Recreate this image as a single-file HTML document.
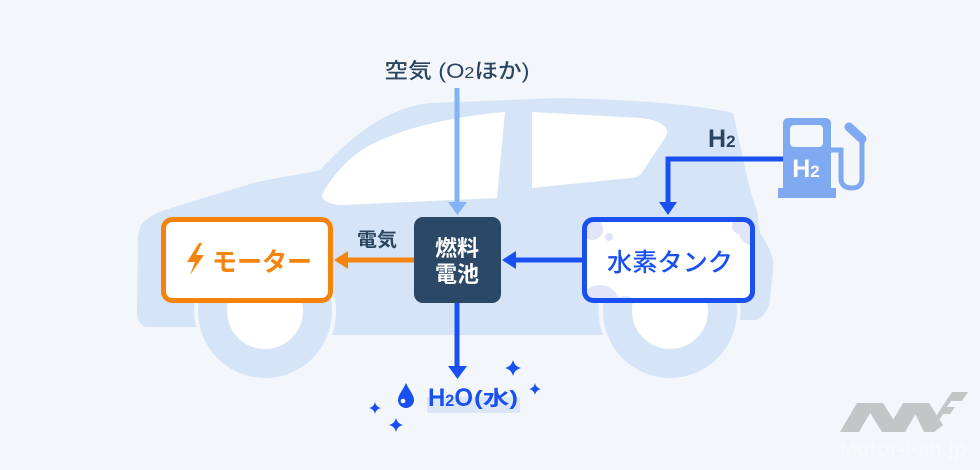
<!DOCTYPE html>
<html><head><meta charset="utf-8">
<style>
html,body{margin:0;padding:0;background:#f3f6fa;}
svg{display:block;}
text{font-family:"Liberation Sans","Noto Sans CJK JP",sans-serif;}
</style></head>
<body>
<svg width="980" height="470" viewBox="0 0 980 470" xmlns="http://www.w3.org/2000/svg">
<rect width="980" height="470" fill="#f3f6fa"/>
<!-- car body -->
<path fill="#d5e5f7" d="M140,228 C142,221 152,214 168,209 L253,183 C285,176 305,174 320,170 C350,138 385,108 430,103 L560,98 C640,100 700,105 733,113 C742,150 748,190 757,210 L760,233 C768,245 775,258 773,270 L770,300 C768,312 762,318 755,320 L740,320 A71,71 0 1 0 603,335 L332,335 A71,71 0 1 0 196,327 L146,327 C139,325 137,318 137,312 L138,240 C138,235 139,231 140,228 Z"/>
<!-- windows -->
<path fill="#ffffff" d="M323,193 C330,180 345,160 365,148 C400,128 450,117 505,112 L497,198 L343,205 C330,205 319,200 323,193 Z"/>
<path fill="#ffffff" d="M532,112 L640,118 C660,120 672,127 665,138 L641,174 C638,177 634,178 630,178 L532,188 Z"/>
<!-- wheels -->
<circle cx="265" cy="311" r="67" fill="#d5e5f7"/>
<circle cx="265" cy="311" r="38" fill="#ffffff"/>
<circle cx="670" cy="311" r="67" fill="#d5e5f7"/>
<circle cx="670" cy="311" r="38" fill="#ffffff"/>

<!-- air label and arrow -->
<text x="457" y="78" font-size="21" font-weight="500" fill="#2b4560" text-anchor="middle" textLength="145" lengthAdjust="spacingAndGlyphs">空気 (O<tspan font-size="16">2</tspan>ほか)</text>
<line x1="457" y1="88" x2="457" y2="204" stroke="#82b3f7" stroke-width="5"/>
<path d="M448,202 L467,202 L457.5,215 Z" fill="#82b3f7"/>

<!-- motor box -->
<rect x="163.5" y="219.5" width="167" height="81" rx="9" fill="#ffffff" stroke="#f5840f" stroke-width="5"/>
<path d="M199,243 L187,262 L195,262 L190,275 L204,255 L196,255 L202,243 Z" fill="#f5840f"/>
<text x="262" y="271" font-size="26" font-weight="700" fill="#f5840f" text-anchor="middle" textLength="100" lengthAdjust="spacingAndGlyphs">モーター</text>

<!-- electricity arrow -->
<line x1="414" y1="260" x2="346" y2="260" stroke="#f5840f" stroke-width="5"/>
<path d="M348,251 L348,269 L334,260 Z" fill="#f5840f"/>
<text x="377" y="246" font-size="19" font-weight="700" fill="#2b4560" text-anchor="middle" textLength="40" lengthAdjust="spacingAndGlyphs">電気</text>

<!-- fuel cell -->
<rect x="414" y="217" width="87" height="86" rx="9" fill="#2b4866"/>
<text x="457" y="256" font-size="22" font-weight="700" fill="#ffffff" text-anchor="middle">燃料</text>
<text x="457" y="282" font-size="22" font-weight="700" fill="#ffffff" text-anchor="middle">電池</text>

<!-- tank to fuel cell arrow -->
<line x1="582" y1="260" x2="514" y2="260" stroke="#1a50f0" stroke-width="5"/>
<path d="M516,251 L516,269 L502,260 Z" fill="#1a50f0"/>

<!-- tank box -->
<defs><clipPath id="tc"><rect x="587" y="222" width="163" height="76" rx="6"/></clipPath></defs>
<rect x="584.5" y="219.5" width="168" height="81" rx="9" fill="#ffffff"/>
<g clip-path="url(#tc)" fill="#e2e5f9">
<circle cx="592" cy="229" r="11"/>
<circle cx="609" cy="237" r="4"/>
<circle cx="752" cy="232" r="13"/>
<circle cx="740" cy="226" r="8"/>
<circle cx="600" cy="305" r="20"/>
<circle cx="625" cy="310" r="14"/>
</g>
<rect x="584.5" y="219.5" width="168" height="81" rx="9" fill="none" stroke="#1a50f0" stroke-width="5"/>
<text x="670" y="271" font-size="25" font-weight="500" fill="#1a4ff0" text-anchor="middle" textLength="126" lengthAdjust="spacingAndGlyphs">水素タンク</text>

<!-- H2 supply -->
<text x="708" y="147" font-size="25" font-weight="700" fill="#2b4560">H<tspan font-size="17">2</tspan></text>
<polyline points="783,159 668,159 668,204" fill="none" stroke="#1a50f0" stroke-width="5"/>
<path d="M659,202 L677,202 L668,215 Z" fill="#1a50f0"/>

<!-- pump -->
<path d="M783,193 L783,124 Q783,118 789,118 L825,118 Q831,118 831,124 L831,193 Z" fill="#7fa9f0"/>
<rect x="778" y="188" width="58" height="10" fill="#7fa9f0"/>
<rect x="790" y="125" width="33" height="22" rx="4" fill="#f3f6fa"/>
<text x="806" y="177" font-size="25" font-weight="700" fill="#ffffff" text-anchor="middle">H<tspan font-size="17">2</tspan></text>
<path d="M830,150 L841,150 L841,178 Q841,188 852,188 Q862,188 862,178 L862,140" fill="none" stroke="#7fa9f0" stroke-width="5"/>
<line x1="862" y1="139" x2="849" y2="127" stroke="#7fa9f0" stroke-width="9" stroke-linecap="round"/>

<!-- water output -->
<line x1="457" y1="303" x2="457" y2="367" stroke="#1a50f0" stroke-width="5"/>
<path d="M448,366 L467,366 L457.5,379 Z" fill="#1a50f0"/>
<rect x="427" y="397" width="93" height="16" fill="#dbe7f7"/>
<path d="M406,383 C403,390 398,395 398,400 A8,8 0 0 0 414,400 C414,395 409,390 406,383 Z" fill="#1a50f0"/>
<circle cx="403" cy="401" r="2.3" fill="#ffffff"/>
<text x="428" y="406" font-size="25" font-weight="700" fill="#1a4ff0" textLength="45" lengthAdjust="spacingAndGlyphs">H<tspan font-size="17">2</tspan>O</text>
<text x="474" y="405" font-size="20" font-weight="700" fill="#1a4ff0" textLength="44" lengthAdjust="spacingAndGlyphs">(水)</text>

<!-- sparkles -->
<g fill="#1a50f0">
<path d="M513,360 Q514.5,366.5 521,368 Q514.5,369.5 513,376 Q511.5,369.5 505,368 Q511.5,366.5 513,360 Z"/>
<path d="M535,383 Q536,388 541,389 Q536,390 535,395 Q534,390 529,389 Q534,388 535,383 Z"/>
<path d="M375,402 Q376,407 381,408 Q376,409 375,414 Q374,409 369,408 Q374,407 375,402 Z"/>
<path d="M396,418 Q397.3,423.7 403,425 Q397.3,426.3 396,432 Q394.7,426.3 389,425 Q394.7,423.7 396,418 Z"/>
</g>

<!-- watermark -->
<g fill="#c4c5c7">
<polygon points="840,432 857,403 876,403 859,432"/>
<polygon points="864,403 883,403 901,432 882,432"/>
<polygon points="886,432 903,403 922,403 905,432"/>
<polygon points="910,403 929,403 943,425 934,432 924,432"/>
<polygon points="926,432 942,407 952,392 968,392 962,401 951,401 947,407 955,407 950,414 943,414 932,432"/>
</g>
<text x="903" y="456" font-size="21" font-weight="700" fill="#f8f9fb" text-anchor="middle">Motor-Fan.jp</text>
</svg>
</body></html>
